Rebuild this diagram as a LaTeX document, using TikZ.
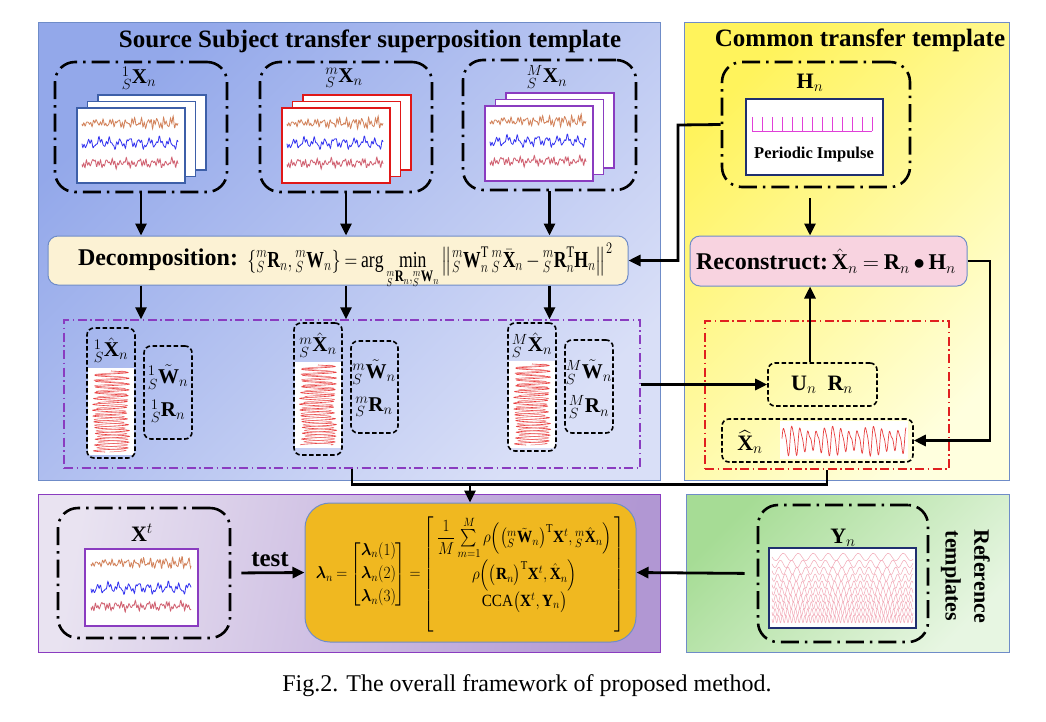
\RequirePackage{fix-cm}
\documentclass[tikz,border=0pt]{standalone}
\usepackage{amsmath}
\usepackage{graphicx}
\usepackage{fontspec}
\setmainfont{Liberation Serif}
\usetikzlibrary{arrows.meta,fit}

\definecolor{bluetl}{HTML}{93A8EA}
\definecolor{bluebr}{HTML}{D9DFF7}
\definecolor{yeltl}{HTML}{FFF35C}
\definecolor{yelbr}{HTML}{FFFFDE}
\definecolor{purl}{HTML}{E9E3F1}
\definecolor{purr}{HTML}{B197D3}
\definecolor{grtl}{HTML}{A6DC95}
\definecolor{grbr}{HTML}{E7F6E2}
\definecolor{orbox}{HTML}{F0B820}
\definecolor{decfill}{HTML}{FCF2D4}
\definecolor{recfill}{HTML}{F8D3E0}
\definecolor{edgeblue}{HTML}{6F8CC8}
\definecolor{frblue}{HTML}{3D5FA8}
\definecolor{frred}{HTML}{E01818}
\definecolor{frpur}{HTML}{8A3CC0}
\definecolor{sigor}{HTML}{D2825A}
\definecolor{sigbl}{HTML}{3434F0}
\definecolor{sigpk}{HTML}{D06070}
\definecolor{zig}{HTML}{E84040}
\definecolor{imp}{HTML}{E040D8}
\definecolor{yline}{HTML}{F2A8B6}
\definecolor{navy}{HTML}{1F2F6F}
\definecolor{redrect}{HTML}{E02020}
\definecolor{purrect}{HTML}{8A3CC0}

\newcommand\titlef{\bfseries\fontsize{25}{29}\selectfont}
\newcommand\sigA[4]{\draw[#1,line width=0.8pt] plot[domain=0:#4,samples=220,variable=\q] ({#2+\q},{#3+(1+1.2*\q/#4)*(1.4*sin(\q*47)+1.2*sin(\q*113+40)+0.9*sin(\q*149+10))+0.8*sin(\q*19)});}
\newcommand\sigB[4]{\draw[#1,line width=0.8pt] plot[domain=0:#4,samples=220,variable=\q] ({#2+\q},{#3+3.4*sin(\q*36)+1.7*sin(\q*101+20)+1.1*sin(\q*143)+1*sin(\q*13)});}
\newcommand\sigC[4]{\draw[#1,line width=0.8pt] plot[domain=0:#4,samples=220,variable=\q] ({#2+\q},{#3+2*sin(\q*55)+1.7*sin(\q*127+60)+1.1*sin(\q*151)+1.5*sin(\q*23)});}
\newcommand\zigcol[3]{%
\draw[zig, line width=0.6pt] plot[domain=0:#3, samples=420, variable=\q] ({#1+17*sin(\q*62)+1.5*sin(\q*7)}, {#2+\q});
\draw[zig!75, line width=0.5pt] plot[domain=0:#3, samples=420, variable=\q] ({#1+15*sin(\q*64+40)-2*sin(\q*9)}, {#2+\q});}
\newcommand\stackfr[4]{%
 \node[frm=#3] (#4c) at (#1+21,#2-13) {};
 \node[frm=#3] (#4b) at (#1+10.5,#2-6.5) {};
 \node[frm=#3] (#4a) at (#1,#2) {};
 \sigA{sigor}{#1+6}{#2+16}{96}
 \sigB{sigbl}{#1+6}{#2+36}{96}
 \sigC{sigpk}{#1+6}{#2+56}{96}}

\begin{document}
\begin{tikzpicture}[x=1pt,y=-1pt,
 panel/.style={draw=#1, line width=0.8pt, inner sep=0pt, outer sep=0pt},
 ddbox/.style={draw=black, line width=2.6pt, rounded corners=20pt, dash pattern=on 18pt off 6pt on 2.5pt off 6pt, inner sep=0pt},
 dbox/.style={draw=black, line width=1.6pt, rounded corners=7pt, dash pattern=on 4.5pt off 2.5pt, inner sep=0pt},
 ddthin/.style={draw=#1, line width=1.3pt, dash pattern=on 9pt off 3.5pt on 1.5pt off 3.5pt, inner sep=0pt},
 frm/.style={draw=#1, fill=white, line width=1.6pt, minimum width=108pt, minimum height=75pt, anchor=north west, inner sep=0pt},
 rbox/.style={draw=edgeblue, line width=1pt, rounded corners=10pt, inner sep=0pt},
 arr/.style={line width=2.8pt, -{Triangle[length=12pt,width=11pt]}},
 conn/.style={line width=2.8pt},
 lab/.style={font=\fontsize{21}{25}\selectfont, inner sep=0pt},
 sml/.style={font=\fontsize{21}{25}\selectfont, inner sep=0pt}]
\useasboundingbox (0,0) rectangle (1046,721);
\thickmuskip=4mu plus 2mu
\medmuskip=3mu

% panels
\node[panel=edgeblue, left color=bluetl, right color=bluebr, shading angle=45, fit={(38,22)(660,480)}] (pblue) {};
\node[panel=edgeblue, left color=yeltl, right color=yelbr, shading angle=45, fit={(684,22)(1009,480)}] (pyel) {};
\node[panel=frpur, left color=purl, right color=purr, shading angle=80, fit={(38,494)(660,652)}] (ppur) {};
\node[panel=edgeblue, left color=grtl, right color=grbr, shading angle=45, fit={(686,494)(1009,652)}] (pgrn) {};

\node[font=\titlef] (ttl1) at (370,41) {Source Subject transfer superposition template};
\node[font=\titlef] (ttl2) at (860,40) {Common transfer template};

% source boxes
\node[ddbox, fit={(55,62)(227,192)}] (srcA) {};
\node[ddbox, fit={(260,62)(432,192)}] (srcB) {};
\node[ddbox, fit={(463,60)(636,190)}] (srcC) {};
\node[lab] (labA) at (139,78) {${}^{1}_{S}\mathbf{X}_n$};
\node[lab] (labB) at (344,78) {${}^{m}_{S}\mathbf{X}_n$};
\node[lab] (labC) at (547,77) {${}^{M}_{S}\mathbf{X}_n$};
\stackfr{76}{107}{frblue}{fA}
\stackfr{281}{107}{frred}{fB}
\stackfr{484}{105}{frpur}{fC}

% decomposition
\node[rbox, fill=decfill, fit={(48,236)(628,285)}] (decomp) {};
\node[inner sep=0pt, font=\bfseries\fontsize{24}{28}\selectfont] (decA) at (158,260) {Decomposition:};
\node[inner sep=0pt, font=\fontsize{20}{24}\selectfont] (decB) at (430,266) {\resizebox*{365pt}{46pt}{$\displaystyle\left\{{}^{m}_{S}\mathbf{R}_n,{}^{m}_{S}\mathbf{W}_n\right\}=\arg\min\limits_{{}^{m}_{S}\mathbf{R}_n,{}^{m}_{S}\mathbf{W}_n}\left\|{}^{m}_{S}\mathbf{W}_n^{\mathrm{T}}\,{}^{m}_{S}\bar{\mathbf{X}}_n-{}^{m}_{S}\mathbf{R}_n^{\mathrm{T}}\mathbf{H}_n\right\|^2$}};

\draw[arr] (srcA.south) -- (srcA.south |- decomp.north);
\draw[arr] (srcB.south) -- (srcB.south |- decomp.north);
\draw[arr] (srcC.south) -- (srcC.south |- decomp.north);

% purple region
\node[ddthin=purrect, fit={(64,320)(640,468)}] (purp) {};
\draw[arr] (srcA.south |- decomp.south) -- (srcA.south |- purp.north);
\draw[arr] (srcB.south |- decomp.south) -- (srcB.south |- purp.north);
\draw[arr] (srcC.south |- decomp.south) -- (srcC.south |- purp.north);

\fill[white] (88,368) rectangle (134,455);
\zigcol{111}{371}{81}
\node[dbox, fit={(87,328)(135,458)}] (colA) {};
\node[dbox, fit={(144,346)(192,439)}] (wrA) {};
\node[lab] (xhA) at (111,350) {${}^{1}_{S}\hat{\mathbf{X}}_n$};
\node[sml] (wA) at (168,377) {${}^{1}_{S}\tilde{\mathbf{W}}_n$};
\node[sml] (rA) at (168,411) {${}^{1}_{S}\mathbf{R}_n$};

\fill[white] (295,362) rectangle (341,448);
\zigcol{318}{365}{80}
\node[dbox, fit={(294,323)(342,455)}] (colB) {};
\node[dbox, fit={(351,341)(398,433)}] (wrB) {};
\node[lab] (xhB) at (318,345) {${}^{m}_{S}\hat{\mathbf{X}}_n$};
\node[sml] (wB) at (374,372) {${}^{m}_{S}\tilde{\mathbf{W}}_n$};
\node[sml] (rB) at (374,407) {${}^{m}_{S}\mathbf{R}_n$};

\fill[white] (509,361) rectangle (555,448);
\zigcol{532}{364}{81}
\node[dbox, fit={(508,323)(556,451)}] (colC) {};
\node[dbox, fit={(565,340)(613,433)}] (wrC) {};
\node[lab] (xhC) at (532,345) {${}^{M}_{S}\hat{\mathbf{X}}_n$};
\node[sml] (wC) at (589,372) {${}^{M}_{S}\tilde{\mathbf{W}}_n$};
\node[sml] (rC) at (589,407) {${}^{M}_{S}\mathbf{R}_n$};

% common transfer template
\node[ddbox, fit={(722,62)(910,187)}] (hbox) {};
\node[font=\fontsize{22}{26}\selectfont, inner sep=0pt] (hlab) at (810,83) {$\mathbf{H}_n$};
\node[draw=navy, fill=white, line width=1.5pt, inner sep=0pt, fit={(746,99)(883,175)}] (himg) {};
\draw[imp, line width=0.8pt] (752,131) -- (872,131);
\foreach \i in {0,...,12} { \draw[imp, line width=0.8pt] (752+10*\i,117) -- (752+10*\i,131); }
\node[font=\bfseries\fontsize{16.5}{20}\selectfont, inner sep=0pt] (pimp) at (814,155) {Periodic Impulse};

\node[rbox, fill=recfill, fit={(690,236)(967,286)}] (recon) {};
\node[font=\fontsize{24}{28}\selectfont, inner sep=0pt] (rectxt) at (826,261) {\textbf{Reconstruct:}\fontsize{22.5}{26}\selectfont$\,\hat{\mathbf{X}}_n=\mathbf{R}_n\bullet\mathbf{H}_n$};

\node[ddthin=redrect, fit={(705,321)(949,469)}] (redr) {};
\node[dbox, fit={(768,363)(877,406)}] (urbox) {};
\node[font=\fontsize{22}{26}\selectfont, inner sep=0pt] (urtxt) at (822,385) {$\mathbf{U}_n\ \ \mathbf{R}_n$};
\fill[white] (780,421) rectangle (908,459);
\draw[zig, line width=0.7pt] plot[domain=0:124, samples=400, variable=\q] ({782+\q}, {440-(11+3*sin(\q*9))*sin(\q*44)-3*sin(\q*88+30)});
\node[dbox, fit={(722,419)(913,462)}] (xhbox) {};
\node[font=\fontsize{22}{26}\selectfont, inner sep=0pt] (xhlab) at (750,442) {$\widehat{\mathbf{X}}_n$};

% connectors top
\coordinate (hturn) at (678,125);
\coordinate (rturn) at (990,261);
\coordinate (vx) at (810,0);
\draw[arr] (hbox.west) -- (hturn) |- (decomp.east);
\draw[arr, shorten <=10pt] (hbox.south -| vx) -- (recon.north -| vx);
\draw[arr] (urbox.north -| vx) -- (recon.south -| vx);
\draw[arr] (urbox.west -| purp.east) -- (urbox.west);
\draw[arr] (recon.east) -- (rturn) |- (xhbox.east);

% merge
\coordinate (mj) at (470,484);
\draw[conn] (purp.south) -- ++(0,16) -| (redr.south);

% bottom left
\node[ddbox, fit={(58,508)(230,638)}] (xtbox) {};
\node[lab, font=\fontsize{22}{26}\selectfont] (xtlab) at (142,533) {$\mathbf{X}^t$};
\node[draw=frpur, fill=white, line width=1.6pt, inner sep=0pt, fit={(85,549)(198,626)}] (xtimg) {};
\sigA{sigor}{91}{563}{100}
\sigB{sigbl}{91}{588}{100}
\sigC{sigpk}{91}{606}{100}

\node[draw=edgeblue, line width=1pt, rounded corners=25pt, fill=orbox, inner sep=0pt, fit={(305,503)(636,642)}] (orange) {};
\draw[arr] (mj) -- (mj |- orange.north);
\node[inner sep=0pt, font=\fontsize{17}{20}\selectfont] (form) at (470.5,574.5) {\resizebox*{309pt}{116pt}{$\arraycolsep=3pt\boldsymbol{\lambda}_n=\begin{bmatrix}\boldsymbol{\lambda}_n(1)\\[3pt]\boldsymbol{\lambda}_n(2)\\[3pt]\boldsymbol{\lambda}_n(3)\end{bmatrix}=\left[\begin{array}{c}\dfrac{1}{M}\sum\limits_{m=1}^{M}\rho\Bigl(\bigl({}^{m}_{S}\tilde{\mathbf{W}}_n\bigr)^{\mathrm{T}}\mathbf{X}^t,{}^{m}_{S}\hat{\mathbf{X}}_n\Bigr)\\[9pt]\rho\Bigl(\bigl(\mathbf{R}_n\bigr)^{\mathrm{T}}\mathbf{X}^t,\hat{\mathbf{X}}_n\Bigr)\\[6pt]\mathrm{CCA}\bigl(\mathbf{X}^t,\mathbf{Y}_n\bigr)\\[20pt]\end{array}\right]$}};

\draw[arr, shorten <=10pt] (xtbox.east) -- (orange.west);
\node[font=\bfseries\fontsize{25}{28}\selectfont, inner sep=0pt] (testlab) at (270,560) {test};

% bottom right
\node[ddbox, fit={(758,505)(928,642)}] (ybox) {};
\node[font=\fontsize{22}{26}\selectfont, inner sep=0pt] (ylab) at (843,538) {$\mathbf{Y}_n$};
\node[draw=navy, fill=white, line width=1.5pt, inner sep=0pt, fit={(769,548)(916,628)}] (yimg) {};
\foreach \i in {0,...,9} {
 \draw[yline, line width=0.5pt] plot[domain=0:141, samples=450, variable=\q] ({772+\q}, {557+\i*6.9+3.6*sin(\q*(24+\i*8))});
}
\draw[arr, shorten <=12pt] (ybox.west) -- (orange.east);
\node[rotate=-90, font=\bfseries\fontsize{22}{26}\selectfont, inner sep=0pt] (ref1) at (982,576) {Reference};
\node[rotate=-90, font=\bfseries\fontsize{22}{26}\selectfont, inner sep=0pt] (ref2) at (951,576) {templates};

\node[font=\fontsize{24}{28}\selectfont, inner sep=0pt] (cap) at (527,686) {Fig.2. The overall framework of proposed method.};
\end{tikzpicture}
\end{document}
